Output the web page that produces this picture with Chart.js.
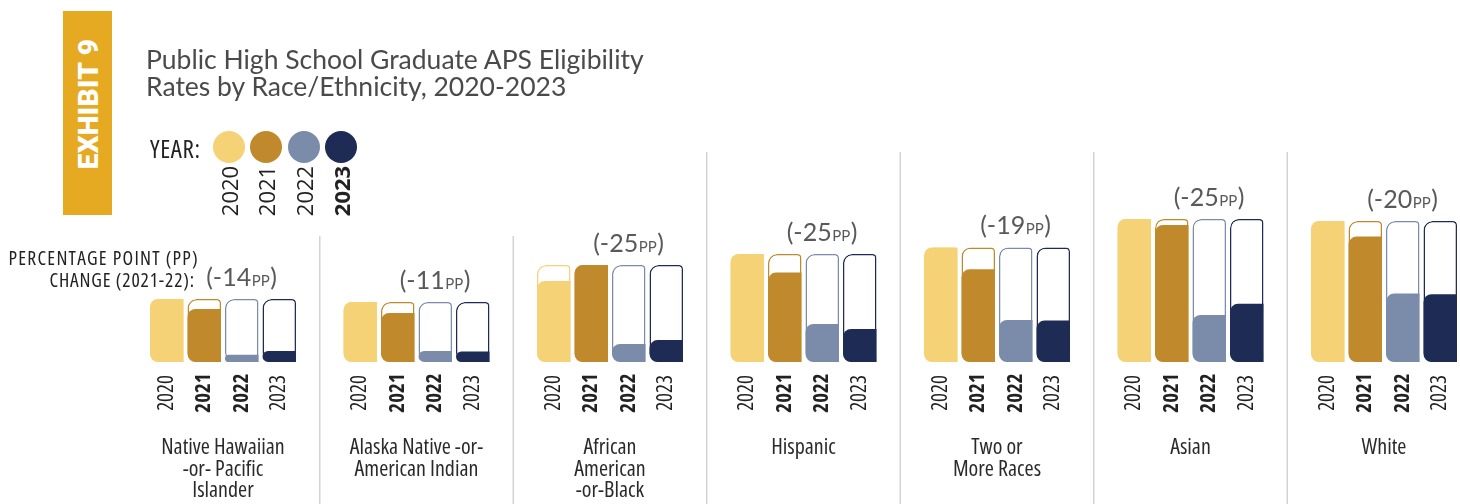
<!DOCTYPE html>
<html><head><meta charset="utf-8">
<script src="https://cdn.jsdelivr.net/npm/chart.js@4/dist/chart.umd.min.js"></script>
<style>
html,body{margin:0;padding:0;background:#fff;overflow:hidden;width:1460px;height:504px;}
#wrap{position:relative;width:1460px;height:504px;overflow:hidden;}
#c{position:absolute;left:0;top:0;}
.abs{position:absolute;white-space:nowrap;}
.cond{font-family:'Open Sans',sans-serif;font-stretch:condensed;}
</style></head><body>
<div id="wrap">
<canvas id="c" width="1500" height="504" style="width:1500px;height:504px"></canvas>
<div class="abs" style="left:63px;top:11px;width:49px;height:204px;background:#E5AA22"></div>
<div class="abs" style="left:88px;top:104px;transform:translate(-50%,-50%) rotate(-90deg);color:#fff;font:900 28px Roboto;letter-spacing:0.3px">EXHIBIT 9</div>
<div class="abs" style="left:146px;top:46px;font:400 26.5px Lato;line-height:27px;color:#4a4a4a">Public High School Graduate APS Eligibility<br>Rates by Race/Ethnicity, 2020-2023</div>
<div class="abs cond" style="left:150px;top:148px;transform:translateY(-50%);font-size:25px;letter-spacing:0.6px;color:#222">YEAR:</div>
<div id="legend"></div>
<div class="abs cond" style="left:0;width:199px;top:247px;text-align:right;font-size:19.5px;letter-spacing:1.25px;line-height:22px;color:#222">PERCENTAGE POINT (PP)</div>
<div class="abs cond" style="left:0;width:195px;top:269px;text-align:right;font-size:19.5px;letter-spacing:0.85px;line-height:22px;color:#222">CHANGE (2021-22):</div>
</div>
<script>
// ---- data ----
const categories = [
  ["Native Hawaiian", "-or- Pacific", "Islander"],
  ["Alaska Native -or-", "American Indian"],
  ["African", "American", "-or-Black"],
  "Hispanic",
  ["Two or", "More Races"],
  "Asian",
  "White"
];
const years = ["2020", "2021", "2022", "2023"];
const rate2020 = [21.0, 20.0, 27.0, 36.0, 38.2, 47.7, 47.0];
const rate2021 = [17.7, 16.3, 32.3, 29.8, 30.9, 45.7, 41.8];
const rate2022 = [2.4, 3.7, 6.0, 12.7, 14.0, 15.7, 22.8];
const rate2023 = [3.7, 3.5, 7.3, 11.0, 13.8, 19.4, 22.6];
const ppChange = [-14, -11, -25, -25, -19, -25, -20];

// ---- styles ----
const yearColors = ["#F5D275", "#C08A2C", "#7B8CAB", "#1D2B55"];
const barLabelBold = [false, true, true, false];
const legendBold = [false, false, false, true];
const sepTops = [236, 236, 152, 152, 152, 152];
const COND = '"Open Sans"', CST = 'condensed';

const series = [rate2020, rate2021, rate2022, rate2023];
const groupMax = categories.map((_, i) => Math.max(...series.map(s => s[i])));

// legend (HTML)
const leg = document.getElementById('legend');
years.forEach((y, k) => {
  const cx = 229 + k * 37.3;
  const dot = document.createElement('div');
  dot.className = 'abs';
  dot.style.cssText = `left:${cx - 16}px;top:131px;width:32px;height:32px;border-radius:50%;background:${yearColors[k]}`;
  leg.appendChild(dot);
  const t = document.createElement('div');
  t.className = 'abs cond';
  t.textContent = y;
  t.style.cssText = `left:${cx}px;top:191px;transform:translate(-50%,-50%) rotate(-90deg);font-size:22px;font-stretch:90%;font-weight:${legendBold[k] ? 700 : 400};color:#222`;
  leg.appendChild(t);
});

const common = { barPercentage: 0.893, categoryPercentage: 0.775 };
const frameSets = years.map((y, k) => Object.assign({
  label: 'frame ' + y, data: groupMax, stack: 's' + y, order: 2,
  backgroundColor: '#ffffff', borderColor: yearColors[k], borderWidth: 1.5, borderSkipped: false,
  borderRadius: { topLeft: 9, topRight: 4, bottomLeft: 9, bottomRight: 0 }
}, common));
const fillSets = years.map((y, k) => Object.assign({
  label: y, data: series[k], stack: 's' + y, order: 1,
  backgroundColor: yearColors[k], borderWidth: 0, borderSkipped: false,
  borderRadius: { topLeft: 8, topRight: 0, bottomLeft: 8, bottomRight: 0 }
}, common));

const overlay = {
  id: 'overlay',
  beforeDatasetsDraw(chart) {
    const ctx = chart.ctx, xs = chart.scales.x;
    ctx.save();
    ctx.strokeStyle = '#d3d3d3';
    ctx.lineWidth = 1.5;
    for (let i = 1; i < categories.length; i++) {
      const bx = (xs.getPixelForValue(i - 1) + xs.getPixelForValue(i)) / 2;
      ctx.beginPath();
      ctx.moveTo(bx, sepTops[i - 1]);
      ctx.lineTo(bx, chart.height);
      ctx.stroke();
    }
    ctx.restore();
  },
  afterDatasetsDraw(chart) {
    const ctx = chart.ctx, xs = chart.scales.x, ys = chart.scales.y;
    const base = chart.chartArea.bottom;
    ctx.save();
    fillSets.forEach((ds, k) => {
      const meta = chart.getDatasetMeta(k);
      meta.data.forEach(el => {
        ctx.save();
        ctx.translate(el.x, base + 31);
        ctx.rotate(-Math.PI / 2);
        ctx.font = `${barLabelBold[k] ? 700 : 400} ${CST} 21px ${COND}`;
        ctx.fillStyle = '#222';
        ctx.textAlign = 'center';
        ctx.textBaseline = 'middle';
        ctx.fillText(years[k], 0, 0);
        ctx.restore();
      });
    });
    ppChange.forEach((pp, i) => {
      const cx = xs.getPixelForValue(i) + 18;
      const y = ys.getPixelForValue(groupMax[i]) - 13;
      const big = '400 25px Lato', small = '400 15px Lato';
      const a = '(' + (pp < 0 ? '-' : '+') + Math.abs(pp), b = 'PP', c = ')';
      ctx.font = big; const wa = ctx.measureText(a).width, wc = ctx.measureText(c).width;
      ctx.font = small; const wb = ctx.measureText(b).width;
      let x = cx - (wa + wb + wc) / 2;
      ctx.fillStyle = '#595959';
      ctx.textBaseline = 'alphabetic';
      ctx.textAlign = 'left';
      ctx.font = big; ctx.fillText(a, x, y); x += wa;
      ctx.font = small; ctx.fillText(b, x + 0.5, y); x += wb + 1;
      ctx.font = big; ctx.fillText(c, x, y);
    });
    ctx.restore();
  }
};

new Chart(document.getElementById('c'), {
  type: 'bar',
  data: { labels: categories, datasets: [...fillSets, ...frameSets] },
  options: {
    responsive: false,
    animation: false,
    devicePixelRatio: 1,
    layout: { padding: { left: 126.25, right: 19.25, top: 62, bottom: 0 } },
    plugins: { legend: { display: false }, tooltip: { enabled: false } },
    scales: {
      x: {
        type: 'category', offset: true,
        grid: { display: false, drawTicks: false },
        border: { display: false },
        ticks: { autoSkip: false, maxRotation: 0, padding: 75, color: '#2a2a2a',
                 font: { family: COND, weight: '400 ' + CST, size: 22, lineHeight: 0.98 } },
        afterFit(a) { a.height = 142; }
      },
      y: { display: false, min: 0, max: 100, stacked: false }
    }
  },
  plugins: [overlay]
});
</script>
</body></html>
